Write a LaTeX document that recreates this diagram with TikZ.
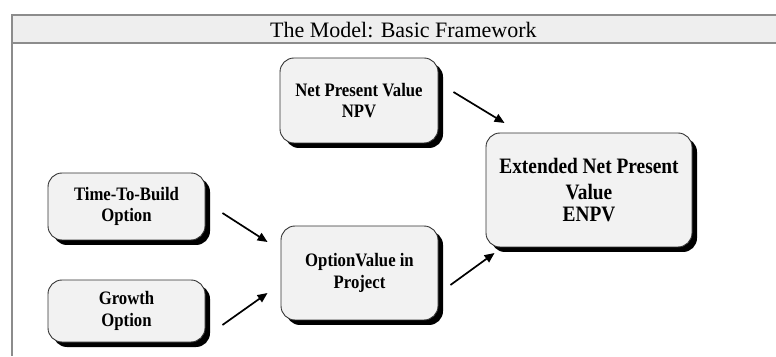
\documentclass[tikz,border=0pt]{standalone}
\usepackage{fontspec}
\setmainfont{Liberation Serif}
\newfontfamily\condfont[FakeStretch=0.88]{Liberation Serif}
\usetikzlibrary{shadows,calc,arrows.meta}
\definecolor{boxfill}{HTML}{F2F2F2}
\definecolor{barfill}{HTML}{EEEEEE}
\definecolor{frameline}{HTML}{8C8C8C}
\tikzset{
  fbox/.style={draw=black!80, line width=0.9pt, fill=boxfill, rounded corners=14pt,
    align=center, font=\condfont\bfseries\fontsize{19}{21.5}\selectfont, inner sep=0pt,
    drop shadow={shadow xshift=5pt, shadow yshift=-5pt, fill=black, opacity=1}},
  conn/.style={line width=1.7pt, -{Triangle[length=10pt,width=8.5pt]}}
}
\begin{document}
\begin{tikzpicture}[x=1pt,y=1pt]
\useasboundingbox (0,0) rectangle (776,356);
% frame
\fill[barfill] (12,341) rectangle (776,313);
\draw[frameline, line width=1.5pt] (12,341) -- (776,341);
\draw[frameline, line width=1.5pt] (12,313) -- (776,313);
\draw[frameline, line width=1.2pt] (12,341.75) -- (12,0);
\node[font=\fontsize{22}{24}\selectfont, anchor=base west, inner sep=0pt] (title) at (270,318) {The Model: Basic Framework};
% boxes
\node[fbox, minimum width=158pt, minimum height=85pt] (npv) at (359,255.5) {Net Present Value\\NPV};
\node[fbox, minimum width=206pt, minimum height=114pt, font=\condfont\bfseries\fontsize{22}{22}\selectfont] (enpv) at (589,166) {Extended Net Present\\[4pt]Value\\ENPV};
\node[fbox, minimum width=157pt, minimum height=67pt] (ttb) at (126.5,149.5) {Time-To-Build\\Option};
\node[fbox, minimum width=157pt, minimum height=62pt] (gro) at (126.5,45) {Growth\\Option};
\node[fbox, minimum width=157pt, minimum height=94pt] (ov) at (359.5,83) {OptionValue in\\Project};
% connectors
\draw[conn] ($(npv.east)+(15,8.5)$) -- ($(enpv.west)+(19,67)$);
\draw[conn] ($(ttb.east)+(17,-6.5)$) -- ($(ov.west)+(-13,31)$);
\draw[conn] ($(gro.east)+(17,-14)$) -- ($(ov.west)+(-13,-20)$);
\draw[conn] ($(ov.east)+(12,-12)$) -- ($(enpv.west)+(9,-63)$);
\end{tikzpicture}
\end{document}
